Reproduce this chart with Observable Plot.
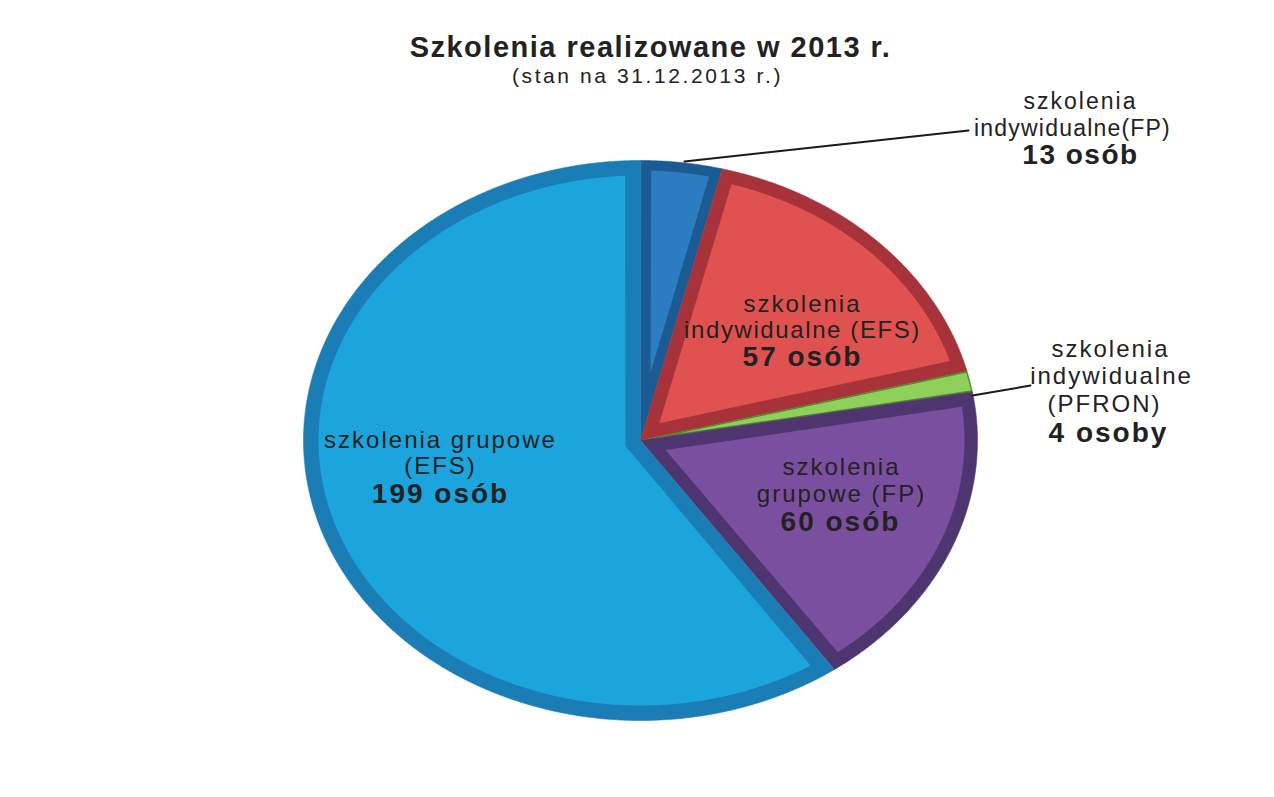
<!DOCTYPE html>
<html>
<head>
<meta charset="utf-8">
<script src="https://cdn.jsdelivr.net/npm/d3@7"></script>
<script src="https://cdn.jsdelivr.net/npm/@observablehq/plot@0.6"></script>
<style>
  html, body { margin: 0; padding: 0; background: #ffffff; }
  #chart { width: 1274px; height: 797px; }
</style>
</head>
<body>
<div id="chart"></div>
<script>
// ---- data ----
const categories = [
  "szkolenia indywidualne (FP)",
  "szkolenia indywidualne (EFS)",
  "szkolenia indywidualne (PFRON)",
  "szkolenia grupowe (FP)",
  "szkolenia grupowe (EFS)"
];
const values = [13, 57, 4, 60, 199];
const valueLabels = ["13 osób", "57 osób", "4 osoby", "60 osób", "199 osób"];
const title = "Szkolenia realizowane w 2013 r.";
const subtitle = "(stan na 31.12.2013 r.)";

// ---- style ----
const fills = ["#2b7cc0", "#e0524f", "#8fd05a", "#7a4f9f", "#1ca4dd"];
const rims  = ["#1b5a92", "#a8323a", "#4f8a2c", "#4f3570", "#1a7db5"];
const bevel = [10, 13, 1.2, 13, 15];

const W = 1274, H = 797;
const CX = 640, CY = 440, RX = 337, RY = 280;

// pixel -> plot coords (y up, origin at pie centre)
const P = (px, py) => ({x: px - CX, y: CY - py});

const arcs = d3.pie().sort(null).value(d => d)(values);
const step = Math.PI / 720;

const outer = [], inner = [];
arcs.forEach((a, i) => {
  const a0 = a.startAngle, a1 = a.endAngle;
  outer.push({i, x: 0, y: 0});
  for (let t = a0; t <= a1 + 1e-9; t += step) {
    outer.push({i, x: RX * Math.sin(t), y: RY * Math.cos(t)});
  }
  outer.push({i, x: RX * Math.sin(a1), y: RY * Math.cos(a1)});

  // inset (bevel) polygon
  const b = bevel[i];
  const v0 = [RX * Math.sin(a0), RY * Math.cos(a0)];
  const v1 = [RX * Math.sin(a1), RY * Math.cos(a1)];
  const ps0 = Math.atan2(v0[0], v0[1]);
  const ps1 = Math.atan2(v1[0], v1[1]);
  let alpha = ps1 - ps0;
  while (alpha <= 0) alpha += 2 * Math.PI;
  while (alpha > 2 * Math.PI) alpha -= 2 * Math.PI;
  const d0 = [Math.sin(ps0), Math.cos(ps0)];
  const d1 = [Math.sin(ps1), Math.cos(ps1)];
  const n0 = [d0[1], -d0[0]];
  const n1 = [-d1[1], d1[0]];
  const psb = ps0 + alpha / 2;
  const k = b / Math.sin(alpha / 2);
  const apex = {i, x: k * Math.sin(psb), y: k * Math.cos(psb)};
  const pts = [];
  for (let t = a0; t <= a1 + 1e-9; t += step / 2) {
    const p = [(RX - b) * Math.sin(t), (RY - b) * Math.cos(t)];
    const e0 = p[0] * n0[0] + p[1] * n0[1];
    const e1 = p[0] * n1[0] + p[1] * n1[1];
    const ok = alpha < Math.PI ? (e0 >= b && e1 >= b) : (e0 >= b || e1 >= b);
    if (ok) pts.push({i, x: p[0], y: p[1]});
  }
  if (pts.length > 1) inner.push(apex, ...pts);
});

// label layout (pixel positions), font size, weight, letter spacing
const F = "Liberation Sans, Arial, sans-serif";
const textRows = [
  {...P(650, 47), t: title, fs: 29, fw: "bold", ls: 1.5},
  {...P(647, 76), t: subtitle, fs: 21, fw: "normal", ls: 2.6},
  // individual FP
  {...P(1080, 101), t: "szkolenia", fs: 23, fw: "normal", ls: 2},
  {...P(1072, 128), t: "indywidualne(FP)", fs: 23, fw: "normal", ls: 1.2},
  {...P(1080, 155), t: valueLabels[0], fs: 28, fw: "bold", ls: 1.5},
  // individual EFS
  {...P(802, 304), t: "szkolenia", fs: 24, fw: "normal", ls: 2},
  {...P(802, 330), t: "indywidualne (EFS)", fs: 24, fw: "normal", ls: 1.6},
  {...P(802, 357), t: valueLabels[1], fs: 28, fw: "bold", ls: 2},
  // individual PFRON
  {...P(1110, 349), t: "szkolenia", fs: 24, fw: "normal", ls: 2},
  {...P(1111, 376), t: "indywidualne", fs: 24, fw: "normal", ls: 2},
  {...P(1104, 404), t: "(PFRON)", fs: 24, fw: "normal", ls: 2},
  {...P(1108, 433), t: valueLabels[2], fs: 28, fw: "bold", ls: 2},
  // group FP
  {...P(841, 467), t: "szkolenia", fs: 24, fw: "normal", ls: 2},
  {...P(841, 494), t: "grupowe (FP)", fs: 24, fw: "normal", ls: 2},
  {...P(840, 522), t: valueLabels[3], fs: 28, fw: "bold", ls: 2},
  // group EFS
  {...P(440, 440), t: "szkolenia grupowe", fs: 24, fw: "normal", ls: 2},
  {...P(440, 466), t: "(EFS)", fs: 24, fw: "normal", ls: 2},
  {...P(440, 494), t: valueLabels[4], fs: 28, fw: "bold", ls: 2}
];

const leaders = [
  {g: 0, ...P(684, 161)}, {g: 0, ...P(968, 130)},
  {g: 1, ...P(972, 395)}, {g: 1, ...P(1030, 385)}
];

const chart = Plot.plot({
  width: W,
  height: H,
  margin: 0,
  x: {domain: [-CX, W - CX], range: [0, W], axis: null},
  y: {domain: [CY, CY - H], range: [0, H], axis: null},
  style: {background: "#ffffff"},
  marks: [
    Plot.line(outer, {x: "x", y: "y", z: "i", fill: d => rims[d.i], stroke: d => rims[d.i], strokeWidth: 0.6, curve: "linear-closed"}),
    Plot.line(inner, {x: "x", y: "y", z: "i", fill: d => fills[d.i], stroke: "none", curve: "linear-closed"}),
    Plot.line(leaders, {x: "x", y: "y", z: "g", stroke: "#1a1a1a", strokeWidth: 2}),
    ...textRows.map(r => Plot.text([r], {
      x: "x", y: "y", text: "t", fontSize: r.fs, fontWeight: r.fw,
      fontFamily: F, fill: "#222222", textAnchor: "middle", lineAnchor: "middle"
    }))
  ]
});
// letter spacing per text mark (in mark order)
chart.querySelectorAll('g[aria-label="text"]').forEach((g, j) => {
  if (textRows[j]) g.querySelectorAll("text").forEach(t => t.style.letterSpacing = textRows[j].ls + "px");
});
document.getElementById("chart").appendChild(chart);
</script>
</body>
</html>
